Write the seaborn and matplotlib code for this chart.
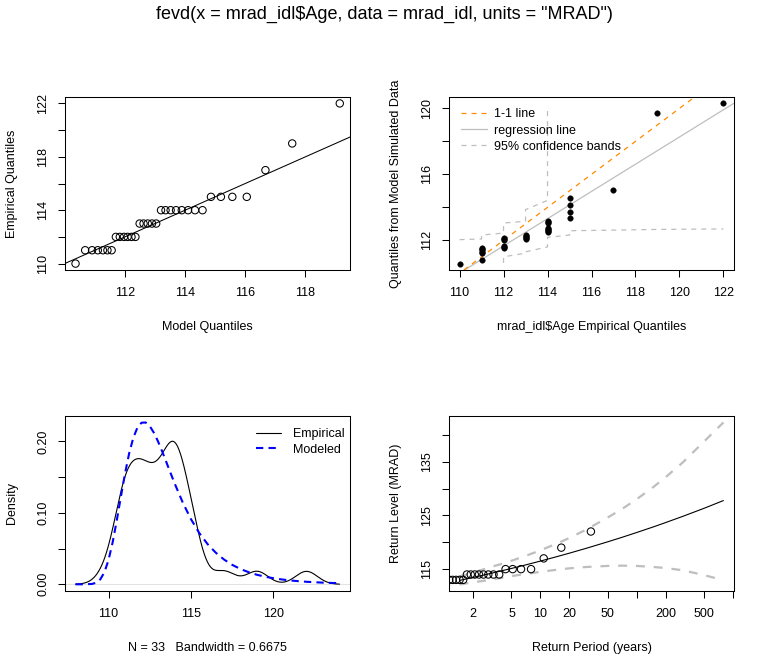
import numpy as np
import seaborn as sns
import matplotlib.pyplot as plt
from matplotlib.lines import Line2D
from matplotlib.ticker import NullLocator

# ---- data ----
# sorted ages (empirical quantiles)
age = [110] + [111] * 6 + [112] * 6 + [113] * 5 + [114] * 8 + [115] * 4 + [117, 119, 122]

# model quantiles (qq plot, x axis)
model_q = [110.36,
           110.68, 110.91, 111.10, 111.27, 111.42, 111.56,
           111.70, 111.83, 111.97, 112.09, 112.22, 112.35,
           112.49, 112.62, 112.76, 112.90, 113.04,
           113.20, 113.35, 113.52, 113.70, 113.89, 114.10, 114.33, 114.58,
           114.86, 115.19, 115.57, 116.05,
           116.67, 117.56, 119.14]

# quantiles from model simulated data (qq plot 2, y axis)
sim_q = [110.59,
         110.81, 111.25, 111.32, 111.40, 111.48, 111.56,
         111.56, 111.62, 111.68, 112.00, 112.06, 112.12,
         112.06, 112.12, 112.18, 112.25, 112.32,
         112.50, 112.55, 112.61, 112.68, 112.73, 113.05, 113.12, 113.19,
         113.33, 113.74, 114.14, 114.59,
         115.03, 119.70, 120.30]

nan = np.nan
band_low = [nan,
            nan, nan, nan, nan, nan, nan,
            110.63, 110.70, 110.78, 110.85, 110.93, 111.00,
            111.22, 111.24, 111.26, 111.28, 111.30,
            111.60, 111.68, 111.76, 111.85, 111.93, 112.02, 112.10, 112.18,
            112.32, 112.42, 112.50, 112.58,
            112.62, 112.66, 112.69]
band_up = [112.04,
           112.08, 112.13, 112.18, 112.23, 112.28, 112.32,
           112.44, 112.56, 112.68, 112.80, 112.93, 113.05,
           113.15, 113.33, 113.50, 113.68, 113.86,
           114.42, 114.90, 115.50, 116.10, 116.80, 117.60, 118.70, 120.06,
           nan, nan, nan, nan,
           nan, nan, nan]

bandwidth = 0.6675

# modeled density
dens_x = [108.0, 108.5, 109.0, 109.25, 109.5, 109.75, 110.0, 110.25, 110.5, 110.75,
          111.0, 111.25, 111.5, 111.75, 112.0, 112.25, 112.5, 112.75, 113.0, 113.25,
          113.5, 113.75, 114.0, 114.5, 115.0, 115.5, 116.0, 116.5, 117.0, 117.5,
          118.0, 118.5, 119.0, 119.5, 120.0, 120.5, 121.0, 121.5, 122.0, 122.5,
          123.0, 123.5, 124.0]
dens_y = [0.0000, 0.0000, 0.0005, 0.0022, 0.0069, 0.0169, 0.0341, 0.0589, 0.0896, 0.1229,
          0.1552, 0.1834, 0.2051, 0.2194, 0.2263, 0.2266, 0.2215, 0.2122, 0.2001, 0.1862,
          0.1714, 0.1564, 0.1417, 0.1145, 0.0911, 0.0719, 0.0564, 0.0443, 0.0347, 0.0272,
          0.0214, 0.0169, 0.0133, 0.0106, 0.0085, 0.0068, 0.0054, 0.0044, 0.0035, 0.0029,
          0.0023, 0.0019, 0.0016]

# return level plot
emp_period = [0.284, 0.353, 0.412, 0.467, 0.522, 0.576, 0.633, 0.691, 0.753, 0.817, 0.886,
              0.960, 1.040, 1.127, 1.222, 1.327, 1.443, 1.572, 1.719, 1.885, 2.076, 2.297,
              2.558, 2.871, 3.252, 3.728, 4.339, 5.149, 6.285, 7.990, 10.82, 16.49, 33.50]
period = [1.44, 1.7, 2, 2.5, 3, 4, 5, 7, 10, 15, 20, 30, 50, 70, 100, 150, 200, 300, 500, 800]
ret_level = [112.89, 113.18, 113.46, 113.85, 114.18, 114.71, 115.13, 115.78, 116.50, 117.35,
             117.97, 118.88, 120.08, 120.90, 121.81, 122.87, 123.66, 124.80, 126.30, 127.76]
rl_low = [112.14, 112.35, 112.55, 112.80, 113.00, 113.40, 113.70, 114.10, 114.50, 114.90,
          115.15, 115.40, 115.60, 115.65, 115.60, 115.40, 115.20, 114.80, 113.90, 112.94]
rl_up = [113.64, 114.00, 114.37, 114.90, 115.36, 116.00, 116.56, 117.46, 118.50, 119.80,
         120.80, 122.36, 124.60, 126.15, 128.00, 130.30, 132.10, 134.80, 138.70, 142.30]

# ---- style ----
sns.set_style("ticks", {"axes.edgecolor": "black", "text.color": "black",
                        "xtick.color": "black", "ytick.color": "black",
                        "axes.labelcolor": "black"})
plt.rcParams['font.family'] = ['Liberation Sans', 'DejaVu Sans']
FS = 9.0
GRAY = "#BEBEBE"

fig = plt.figure(figsize=(7.68, 6.72), dpi=100)
W, H = 768, 672


def add(l, t, r, b):
    return fig.add_axes([l / W, 1 - b / H, (r - l) / W, (b - t) / H])


ax1 = add(65, 97, 350, 270)
ax2 = add(449, 97, 734, 270)
ax3 = add(65, 416, 350, 591)
ax4 = add(449, 416, 734, 591)


def finish(ax, xlab, ylab, h):
    for s in ax.spines.values():
        s.set_visible(True)
        s.set_linewidth(0.75)
    ax.tick_params(direction='out', length=5.2, width=0.75, labelsize=FS)
    ax.tick_params(axis='x', pad=7.0)
    ax.tick_params(axis='y', pad=6.3, labelrotation=90)
    for lab in ax.get_yticklabels():
        lab.set_va('center')
    ax.xaxis.set_minor_locator(NullLocator())
    ax.yaxis.set_minor_locator(NullLocator())
    ax.set_xlabel(xlab, fontsize=FS)
    ax.set_ylabel(ylab, fontsize=FS)
    ax.xaxis.set_label_coords(0.5, -57 / h)
    ax.xaxis.label.set_va('center')
    ax.yaxis.set_label_coords(-53 / 285, 0.5)
    ax.yaxis.label.set_va('center')


# panel 1: qq plot
sns.scatterplot(x=model_q, y=age, ax=ax1, marker='o', s=28, color='none',
                edgecolor='black', linewidth=0.75)
ax1.axline((110, 110), slope=1, color='black', lw=0.75)
ax1.set_xlim(110.01, 119.48)
ax1.set_ylim(109.52, 122.48)
ax1.set_xticks([112, 114, 116, 118])
ax1.set_yticks([110, 112, 114, 116, 118, 120, 122], ['110', '', '114', '', '118', '', '122'])
finish(ax1, "Model Quantiles", "Empirical Quantiles", 173)

# panel 2: qq plot of simulated data
ax2.set_xlim(109.52, 122.48)
ax2.set_ylim(110.2, 120.69)
sns.regplot(x=age, y=sim_q, ax=ax2, scatter=False, ci=None, truncate=False,
            line_kws=dict(color=GRAY, lw=0.9))
ax2.axline((110, 110), slope=1, color='darkorange', lw=0.9, ls=(0, (4, 4)))
sns.lineplot(x=age, y=band_low, ax=ax2, estimator=None, sort=False, color=GRAY,
             lw=0.9, ls=(0, (4, 4)))
sns.lineplot(x=age, y=band_up, ax=ax2, estimator=None, sort=False, color=GRAY,
             lw=0.9, ls=(0, (4, 4)))
sns.scatterplot(x=age, y=sim_q, ax=ax2, marker='o', s=16, color='black',
                edgecolor='black', linewidth=0.3, zorder=5)
ax2.set_xlim(109.52, 122.48)
ax2.set_ylim(110.2, 120.69)
ax2.set_xticks([110, 112, 114, 116, 118, 120, 122])
ax2.set_yticks([112, 114, 116, 118, 120], ['112', '', '116', '', '120'])
h2 = [Line2D([], [], color='darkorange', lw=0.9, ls=(0, (4, 4))),
      Line2D([], [], color=GRAY, lw=0.9),
      Line2D([], [], color=GRAY, lw=0.9, ls=(0, (4, 4)))]
ax2.legend(h2, ["1-1 line", "regression line", "95% confidence bands"], loc='upper left',
           bbox_to_anchor=(0.025, 0.963), frameon=False, fontsize=FS, borderaxespad=0,
           handlelength=2.1, handletextpad=0.55, labelspacing=0.33)
finish(ax2, "mrad_idl$Age Empirical Quantiles", "Quantiles from Model Simulated Data", 173)

# panel 3: density
ax3.axhline(0, color='#DDDDDD', lw=0.6)
sns.kdeplot(x=age, ax=ax3, bw_method=bandwidth / np.std(age, ddof=1), cut=3,
            gridsize=512, color='black', lw=0.8)
sns.lineplot(x=dens_x, y=dens_y, ax=ax3, estimator=None, color='#0000FF', lw=1.5,
             ls=(0, (3.5, 2.5)))
ax3.set_xlim(107.36, 124.64)
ax3.set_ylim(-0.0094, 0.2357)
ax3.set_xticks([110, 115, 120])
ax3.set_yticks([0, 0.05, 0.10, 0.15, 0.20], ['0.00', '', '0.10', '', '0.20'])
h3 = [Line2D([], [], color='black', lw=0.8),
      Line2D([], [], color='#0000FF', lw=1.5, ls=(0, (3.5, 2.5)))]
ax3.legend(h3, ["Empirical", "Modeled"], loc='upper right', bbox_to_anchor=(0.997, 0.96),
           frameon=False, fontsize=FS, borderaxespad=0, handlelength=2.0,
           handletextpad=0.9, labelspacing=0.3)
finish(ax3, "N = 33   Bandwidth = 0.6675", "Density", 175)

# panel 4: return levels
ax4.set_xscale('log')
sns.lineplot(x=period, y=ret_level, ax=ax4, estimator=None, color='black', lw=0.8)
sns.lineplot(x=period, y=rl_low, ax=ax4, estimator=None, color=GRAY, lw=1.6,
             ls=(0, (4, 4)))
sns.lineplot(x=period, y=rl_up, ax=ax4, estimator=None, color=GRAY, lw=1.6,
             ls=(0, (4, 4)))
sns.scatterplot(x=emp_period, y=age, ax=ax4, marker='o', s=28, color='none',
                edgecolor='black', linewidth=0.75, zorder=5)
ax4.set_xlim(1.12, 1031)
ax4.set_ylim(110.93, 143.5)
ax4.set_xticks([2, 5, 10, 20, 50, 100, 200, 500, 1000],
               ['2', '5', '10', '20', '50', '', '200', '500', ''])
ax4.set_yticks([115, 120, 125, 130, 135, 140], ['115', '', '125', '', '135', ''])
finish(ax4, "Return Period (years)", "Return Level (MRAD)", 175)

fig.text(0.5, 1 - 14 / H, 'fevd(x = mrad_idl$Age, data = mrad_idl, units = "MRAD")',
         ha='center', va='center', fontsize=13)

fig.savefig("out.png", dpi=100)
